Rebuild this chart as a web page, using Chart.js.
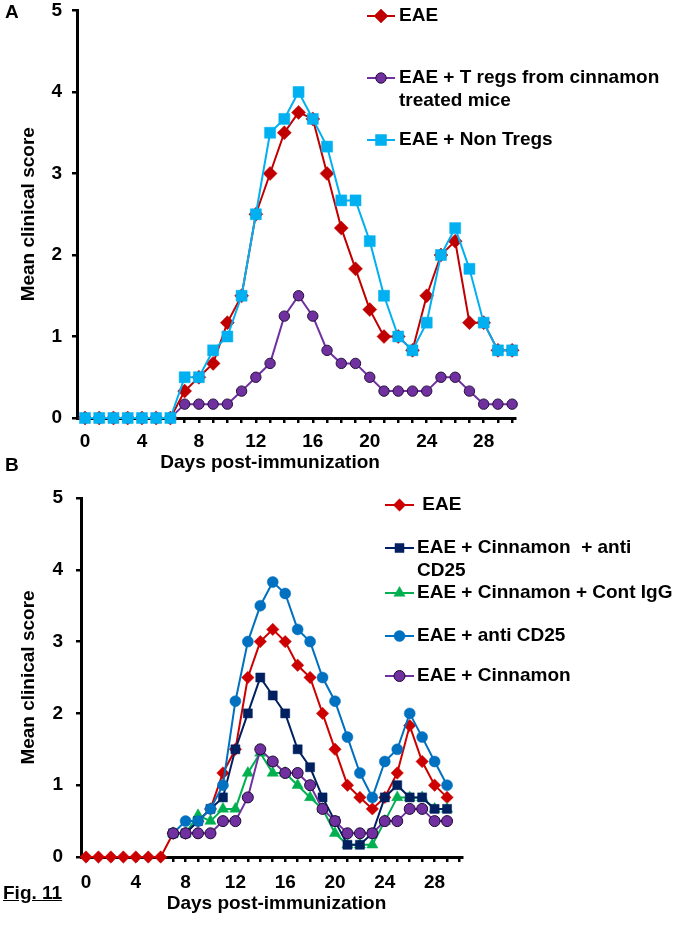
<!DOCTYPE html>
<html>
<head>
<meta charset="utf-8">
<script src="https://cdn.jsdelivr.net/npm/chart.js"></script>
<style>
  body { margin: 0; background: #fff; }
  #wrap { position: relative; width: 684px; height: 929px; font-family: "Liberation Sans", Arial, sans-serif; }
  .panel { position: absolute; left: 0; width: 684px; }
  #pA { top: 0; height: 482px; }
  #pB { top: 470px; height: 459px; }
  .lab { position: absolute; font-weight: bold; font-size: 19px; color: #000; }
</style>
</head>
<body>
<div id="wrap">
  <div class="panel" id="pB"><canvas id="chartB"></canvas></div>
  <div class="panel" id="pA"><canvas id="chartA"></canvas></div>
  <div class="lab" style="left:5px;top:1px;">A</div>
  <div class="lab" style="left:5px;top:454px;">B</div>
  <div class="lab" style="left:3px;top:882px;text-decoration:underline;">Fig. 11</div>
</div>
<script>
// Panel A - dias 0..30
const daysA = [0,1,2,3,4,5,6,7,8,9,10,11,12,13,14,15,16,17,18,19,20,21,22,23,24,25,26,27,28,29,30];
const eaeA = [0,0,0,0,0,0,0,0.33,0.5,0.67,1.17,1.5,2.5,3,3.5,3.75,3.67,3,2.33,1.83,1.33,1,1,0.83,1.5,2,2.17,1.17,1.17,0.83,0.83];
const tregA = [0,0,0,0,0,0,0,0.17,0.17,0.17,0.17,0.33,0.5,0.67,1.25,1.5,1.25,0.83,0.67,0.67,0.5,0.33,0.33,0.33,0.33,0.5,0.5,0.33,0.17,0.17,0.17];
const nonTregA = [0,0,0,0,0,0,0,0.5,0.5,0.83,1,1.5,2.5,3.5,3.67,4,3.67,3.33,2.67,2.67,2.17,1.5,1,0.83,1.17,2,2.33,1.83,1.17,0.83,0.83];

// Panel B - dias 0..29 (los grupos tratados empiezan el dia 7)
const daysB = [0,1,2,3,4,5,6,7,8,9,10,11,12,13,14,15,16,17,18,19,20,21,22,23,24,25,26,27,28,29];
const eaeB = [0,0,0,0,0,0,0,0.33,0.33,0.5,0.67,1.17,1.5,2.5,3,3.17,3,2.67,2.5,2,1.5,1,0.83,0.67,0.83,1.17,1.83,1.33,1,0.83];
const cinAntiB = [null,null,null,null,null,null,null,0.33,0.33,0.5,0.67,0.83,1.5,2,2.5,2.25,2,1.5,1.25,0.83,0.5,0.17,0.17,0.33,0.83,1,0.83,0.83,0.67,0.67];
const cinIggB = [null,null,null,null,null,null,null,0.33,0.33,0.58,0.5,0.67,0.67,1.17,1.45,1.17,1.17,1,0.83,0.67,0.33,0.17,0.17,0.17,0.5,0.83,0.83,0.83,0.67,0.67];
const antiB = [null,null,null,null,null,null,null,0.33,0.5,0.5,0.67,1,2.17,3,3.5,3.83,3.67,3.17,3,2.5,2.17,1.67,1.17,0.83,1.33,1.5,2,1.67,1.33,1];
const cinB = [null,null,null,null,null,null,null,0.33,0.33,0.33,0.33,0.5,0.5,0.83,1.5,1.33,1.17,1.17,1,0.67,0.5,0.33,0.33,0.33,0.5,0.5,0.67,0.67,0.5,0.5];

const xTickLabels = [0,4,8,12,16,20,24,28];
const xTitle = 'Days post-immunization';
const yTitle = 'Mean clinical score';

const FAM = '"Liberation Sans", Arial, sans-serif';
const boldFont = { family: FAM, size: 19, weight: 'bold' };

function puntos(days, vals) {
    return days.map((d, i) => ({ x: d, y: vals[i] }));
}

function serie(label, days, vals, color, style, radius, border) {
    return {
        label: label,
        data: puntos(days, vals),
        borderColor: color,
        backgroundColor: color,
        borderWidth: 2,
        pointStyle: style,
        pointRadius: radius,
        pointBackgroundColor: color,
        pointBorderColor: border || color,
        pointBorderWidth: border ? 1 : 0.5,
        tension: 0,
        clip: false,
        spanGaps: false
    };
}

function marcador(ctx, style, x, y, r) {
    ctx.beginPath();
    if (style === 'rectRot') {
        ctx.moveTo(x, y - r); ctx.lineTo(x + r, y); ctx.lineTo(x, y + r); ctx.lineTo(x - r, y); ctx.closePath();
    } else if (style === 'rect') {
        const s = r * Math.SQRT1_2;
        ctx.rect(x - s, y - s, 2 * s, 2 * s);
    } else if (style === 'triangle') {
        const a = 2 * Math.PI / 3;
        ctx.moveTo(x, y - r);
        ctx.lineTo(x + Math.sin(a) * r, y - Math.cos(a) * r);
        ctx.lineTo(x + Math.sin(2 * a) * r, y - Math.cos(2 * a) * r);
        ctx.closePath();
    } else {
        ctx.arc(x, y, r, 0, Math.PI * 2);
    }
}

// leyenda y titulo del eje x dibujados a mano
const extras = {
    id: 'extras',
    afterDraw(chart, args, opts) {
        const ctx = chart.ctx;
        ctx.save();
        ctx.font = 'bold 19px ' + FAM;
        ctx.fillStyle = '#000';
        ctx.textBaseline = 'middle';
        opts.items.forEach(it => {
            const ds = chart.data.datasets[it.ds];
            ctx.strokeStyle = ds.borderColor;
            ctx.lineWidth = 2;
            ctx.beginPath();
            ctx.moveTo(opts.x0, it.y); ctx.lineTo(opts.x1, it.y);
            ctx.stroke();
            marcador(ctx, ds.pointStyle, (opts.x0 + opts.x1) / 2, it.y, ds.pointRadius);
            ctx.fillStyle = ds.pointBackgroundColor;
            ctx.fill();
            ctx.lineWidth = ds.pointBorderWidth;
            ctx.strokeStyle = ds.pointBorderColor;
            ctx.stroke();
            ctx.fillStyle = '#000';
            ctx.textAlign = 'left';
            it.lines.forEach((t, k) => ctx.fillText(t, opts.tx, it.y + k * 23));
        });
        const xs = chart.scales.x;
        ctx.textAlign = 'center';
        ctx.fillText(xTitle, xs.getPixelForValue(opts.titleAt), opts.titleY);
        ctx.restore();
    }
};

function crearPanel(id, datasets, cfg) {
    const grid = { display: true, drawOnChartArea: false, drawTicks: true, tickLength: 5, lineWidth: 2.5, color: '#000' };
    const border = { display: true, color: '#000', width: 3 };
    return new Chart(document.getElementById(id), {
        type: 'line',
        data: { datasets: datasets },
        options: {
            responsive: true,
            maintainAspectRatio: false,
            animation: false,
            layout: { padding: { left: 0, top: cfg.top, right: cfg.right, bottom: 0 } },
            plugins: { legend: { display: false }, tooltip: { enabled: false }, extras: cfg.extras },
            scales: {
                x: {
                    type: 'linear',
                    min: cfg.xmin,
                    max: cfg.xmax,
                    afterFit: s => { s.height = cfg.xh; },
                    ticks: {
                        stepSize: 1, autoSkip: false, includeBounds: false, maxRotation: 0,
                        padding: cfg.xpad, color: '#000', font: boldFont,
                        callback: v => xTickLabels.includes(v) ? String(v) : ''
                    },
                    grid: grid,
                    border: border
                },
                y: {
                    min: 0,
                    max: 5,
                    afterFit: s => { s.width = cfg.yw; },
                    ticks: { stepSize: 1, padding: cfg.ypad, color: '#000', font: { family: FAM, size: 19, weight: 'bold', lineHeight: 0.001 } },
                    title: { display: true, text: yTitle, color: '#000', font: boldFont, padding: { top: 17, bottom: 0 } },
                    grid: grid,
                    border: border
                }
            }
        },
        plugins: [extras]
    });
}

// el primer dataset queda encima
crearPanel('chartA', [
    serie('EAE + Non Tregs', daysA, nonTregA, '#00B0F0', 'rect', 7.8),
    serie('EAE', daysA, eaeA, '#C00000', 'rectRot', 7),
    serie('EAE + T regs from cinnamon treated mice', daysA, tregA, '#7030A0', 'circle', 5.2, '#24103a')
], {
    top: 10.5, right: 169, xmin: -0.56, xmax: 30.2, xh: 64, yw: 77, xpad: 7, ypad: 10,
    extras: {
        x0: 367, x1: 395, tx: 399, titleAt: 13, titleY: 463,
        items: [
            { ds: 1, y: 16, lines: ['EAE'] },
            { ds: 2, y: 78, lines: ['EAE + T regs from cinnamon', 'treated mice'] },
            { ds: 0, y: 140, lines: ['EAE + Non Tregs'] }
        ]
    }
});

crearPanel('chartB', [
    serie('EAE + Cinnamon', daysB, cinB, '#7030A0', 'circle', 5.5, '#1c0a30'),
    serie('EAE + anti CD25', daysB, antiB, '#0070C0', 'circle', 5.5),
    serie('EAE + Cinnamon + anti CD25', daysB, cinAntiB, '#002060', 'rect', 6.4),
    serie('EAE + Cinnamon + Cont IgG', daysB, cinIggB, '#00B050', 'triangle', 6.5),
    serie('EAE', daysB, eaeB, '#CC0000', 'rectRot', 6.2)
], {
    top: 28, right: 222, xmin: -0.4, xmax: 30.2, xh: 72, yw: 81, xpad: 9, ypad: 13,
    extras: {
        x0: 385, x1: 414, tx: 417, titleAt: 15.3, titleY: 434,
        items: [
            { ds: 4, y: 35, lines: [' EAE'] },
            { ds: 2, y: 78, lines: ['EAE + Cinnamon  + anti', 'CD25'] },
            { ds: 3, y: 123, lines: ['EAE + Cinnamon + Cont IgG'] },
            { ds: 1, y: 166, lines: ['EAE + anti CD25'] },
            { ds: 0, y: 206, lines: ['EAE + Cinnamon'] }
        ]
    }
});
</script>
</body>
</html>
